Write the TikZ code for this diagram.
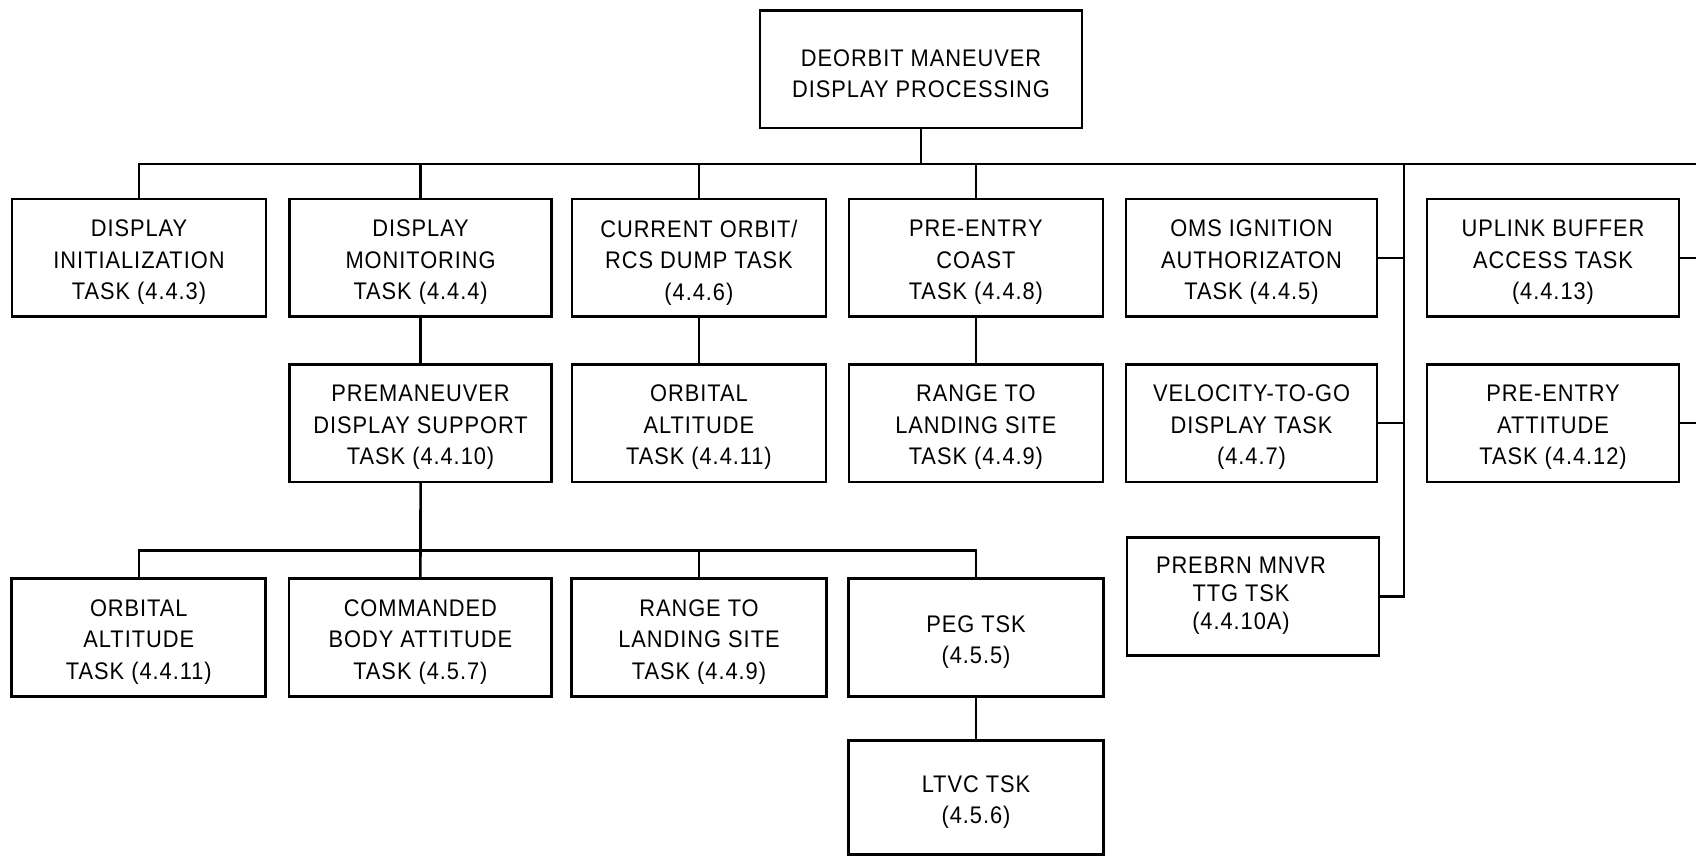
\documentclass[tikz,border=0pt]{standalone}
\usepackage{fontspec}
\setmainfont{Liberation Sans}[FakeStretch=0.91,LetterSpace=4]
\newcommand\tbox[4][]{%
  \node[box,#1] (#2) at (#3) {};
  \node[txt] (#2-t) at ([yshift=-4.5pt]#2.center) {#4};}
\begin{document}
\begin{tikzpicture}[x=1pt,y=-1pt,
  box/.style={draw, line width=2.7pt, inner sep=0pt,
    minimum width=254, minimum height=117.7},
  txt/.style={align=center, inner sep=0pt, font=\fontsize{24}{31.5}\selectfont},
  conn/.style={line width=2.6pt}]
\useasboundingbox (0,0) rectangle (1696,856);
% top
\tbox[minimum width=322, minimum height=117.3]{top}{921,69.3}{DEORBIT MANEUVER\\DISPLAY PROCESSING}
% row 1
\tbox{b1}{139,257.9}{DISPLAY\\INITIALIZATION\\TASK (4.4.3)}
\tbox[minimum width=262.4]{b2}{420.6,257.9}{DISPLAY\\MONITORING\\TASK (4.4.4)}
\tbox{b3}{698.9,257.9}{CURRENT ORBIT/\\RCS DUMP TASK\\(4.4.6)}
\tbox{b4}{975.9,257.9}{PRE-ENTRY\\COAST\\TASK (4.4.8)}
\tbox[minimum width=251]{b5}{1251.5,257.9}{OMS IGNITION\\AUTHORIZATON\\TASK (4.4.5)}
\tbox[minimum width=252]{b6}{1553,257.9}{UPLINK BUFFER\\ACCESS TASK\\(4.4.13)}
% row 2
\tbox[minimum width=262.4]{m2}{420.6,423}{PREMANEUVER\\DISPLAY SUPPORT\\TASK (4.4.10)}
\tbox{o3}{698.9,423}{ORBITAL\\ALTITUDE\\TASK (4.4.11)}
\tbox{r4}{975.9,423}{RANGE TO\\LANDING SITE\\TASK (4.4.9)}
\tbox[minimum width=251]{v5}{1251.5,423}{VELOCITY-TO-GO\\DISPLAY TASK\\(4.4.7)}
\tbox[minimum width=252]{a6}{1553,423}{PRE-ENTRY\\ATTITUDE\\TASK (4.4.12)}
% prebrn
\node[box, minimum width=252, minimum height=118.4] (pb) at (1253,596.5) {};
\node[align=center, inner sep=0pt, font=\fontsize{24}{28}\selectfont] (pbt) at (1241,595.5) {PREBRN MNVR\\TTG TSK\\(4.4.10A)};
% row 3
\tbox[minimum height=118.4]{c1}{138.8,637.5}{ORBITAL\\ALTITUDE\\TASK (4.4.11)}
\tbox[minimum width=262.7, minimum height=118.4]{c2}{420.4,637.5}{COMMANDED\\BODY ATTITUDE\\TASK (4.5.7)}
\tbox[minimum width=254.8, minimum height=118.4]{c3}{699,637.5}{RANGE TO\\LANDING SITE\\TASK (4.4.9)}
\tbox[minimum width=254.9, minimum height=118.4]{c4}{976,637.5}{PEG TSK\\(4.5.5)}
\tbox[minimum width=254.9, minimum height=113.5]{lt}{976,797.5}{LTVC TSK\\(4.5.6)}
% connectors
\coordinate (busR) at (1696,164);
\coordinate (sp) at (1404,164);
\coordinate (sub) at (0,550.7);
\draw[conn] (b1.north) |- (busR);
\draw[conn] (top.south) -- (top.south |- busR);
\draw[conn] (b2.north) -- (b2.north |- busR);
\draw[conn] (b3.north) -- (b3.north |- busR);
\draw[conn] (b4.north) -- (b4.north |- busR);
\draw[conn] (sp) |- (pb.east);
\draw[conn] (b5.east) -- (b5.east -| sp);
\draw[conn] (v5.east) -- (v5.east -| sp);
\draw[conn] (b6.east) -- (b6.east -| busR);
\draw[conn] (a6.east) -- (a6.east -| busR);
\draw[conn] (b2.south) -- (m2.north);
\draw[conn] (b3.south) -- (o3.north);
\draw[conn] (b4.south) -- (r4.north);
\draw[conn] (m2.south) -- (c2.north);
\draw[conn] (c1.north) |- (c4.north |- sub) -- (c4.north);
\draw[conn] (c3.north) -- (c3.north |- sub);
\draw[conn] (c4.south) -- (lt.north);
\end{tikzpicture}
\end{document}
